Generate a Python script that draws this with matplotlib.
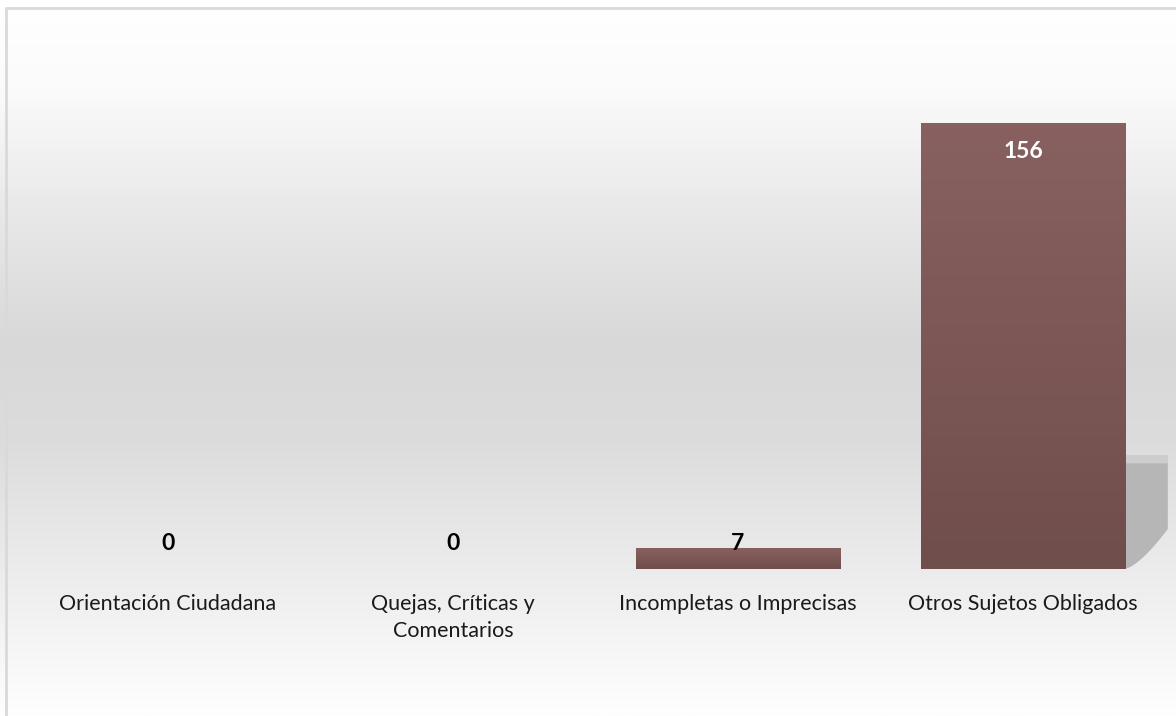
import numpy as np
import matplotlib.pyplot as plt
from matplotlib.colors import LinearSegmentedColormap
from matplotlib.patches import Polygon

categories = [
    "Orientación Ciudadana",
    "Quejas, Críticas y\nComentarios",
    "Incompletas o Imprecisas",
    "Otros Sujetos Obligados",
]
values = [0, 0, 7, 156]

plt.rcParams["font.family"] = ["Lato", "DejaVu Sans"]

fig = plt.figure(figsize=(11.76, 7.16), dpi=100)

# soft gray backdrop, white at the top and bottom
bg = fig.add_axes([0, 0, 1, 1], zorder=0)
bg_cmap = LinearSegmentedColormap.from_list(
    "bg", [(0.0, "#ffffff"), (0.12, "#fbfbfb"), (0.3, "#e8e8e8"),
           (0.48, "#d8d8d8"), (0.62, "#dcdcdc"), (0.8, "#ececec"),
           (1.0, "#fefefe")])
bg.imshow(np.linspace(0, 1, 256)[:, None], aspect="auto", cmap=bg_cmap,
          extent=[0, 1, 0, 1], origin="upper")
bg.set_xlim(0, 1)
bg.set_ylim(0, 1)
bg.axis("off")
# chart frame
bg.plot([0.0052, 0.0052, 1.01], [-0.01, 0.9895, 0.9895],
        color="#d9d9d9", lw=2, solid_capstyle="butt")

ax = fig.add_axes([25.5 / 1176, 147 / 716, 1140 / 1176, 543.2 / 716], zorder=1)
ax.patch.set_alpha(0)
ax.axis("off")

bar_w = 0.716
bar_cmap = LinearSegmentedColormap.from_list("bar", ["#886060", "#704e4c"])
x = np.arange(len(categories))

for xi, v in zip(x, values):
    if v <= 0:
        continue
    if v > 50:
        # drop shadow to the right of the tall bar, rounded off at the foot
        right = xi + bar_w / 2
        yy = np.linspace(14, 0, 25)
        curve = [(right + 0.15 * (y / 14) ** 0.7, y) for y in yy]
        pts = [(right, 37), (right + 0.15, 37)] + curve
        ax.add_patch(Polygon(pts, closed=True, facecolor="#b6b6b6",
                             edgecolor="none", zorder=1, clip_on=False))
        ax.add_patch(Polygon([(right, 37), (right + 0.15, 37),
                              (right + 0.15, 40), (right, 40)], closed=True,
                             facecolor="#cdcdcd", edgecolor="none", zorder=1,
                             clip_on=False))
    ax.imshow(np.linspace(0, 1, 64)[:, None], aspect="auto", cmap=bar_cmap,
              extent=[xi - bar_w / 2, xi + bar_w / 2, 0, v], origin="upper",
              zorder=2)

ax.set_xlim(-0.5, 3.5)
ax.set_ylim(0, 190)

for xi, v in zip(x, values):
    if v > 50:
        ax.text(xi, v - 10, str(v), ha="center", va="center", color="white",
                fontsize=16.5, fontweight="bold", zorder=3)
    else:
        ax.text(xi, 9, str(v), ha="center", va="center", color="black",
                fontsize=16.5, fontweight="bold", zorder=3)

for xi, label in zip(x, categories):
    ax.text(xi, -8.8, label, ha="center", va="top", fontsize=15.5,
            color="#1a1a1a", linespacing=1.45, zorder=3, clip_on=False)

fig.savefig("out.png", dpi=100)
